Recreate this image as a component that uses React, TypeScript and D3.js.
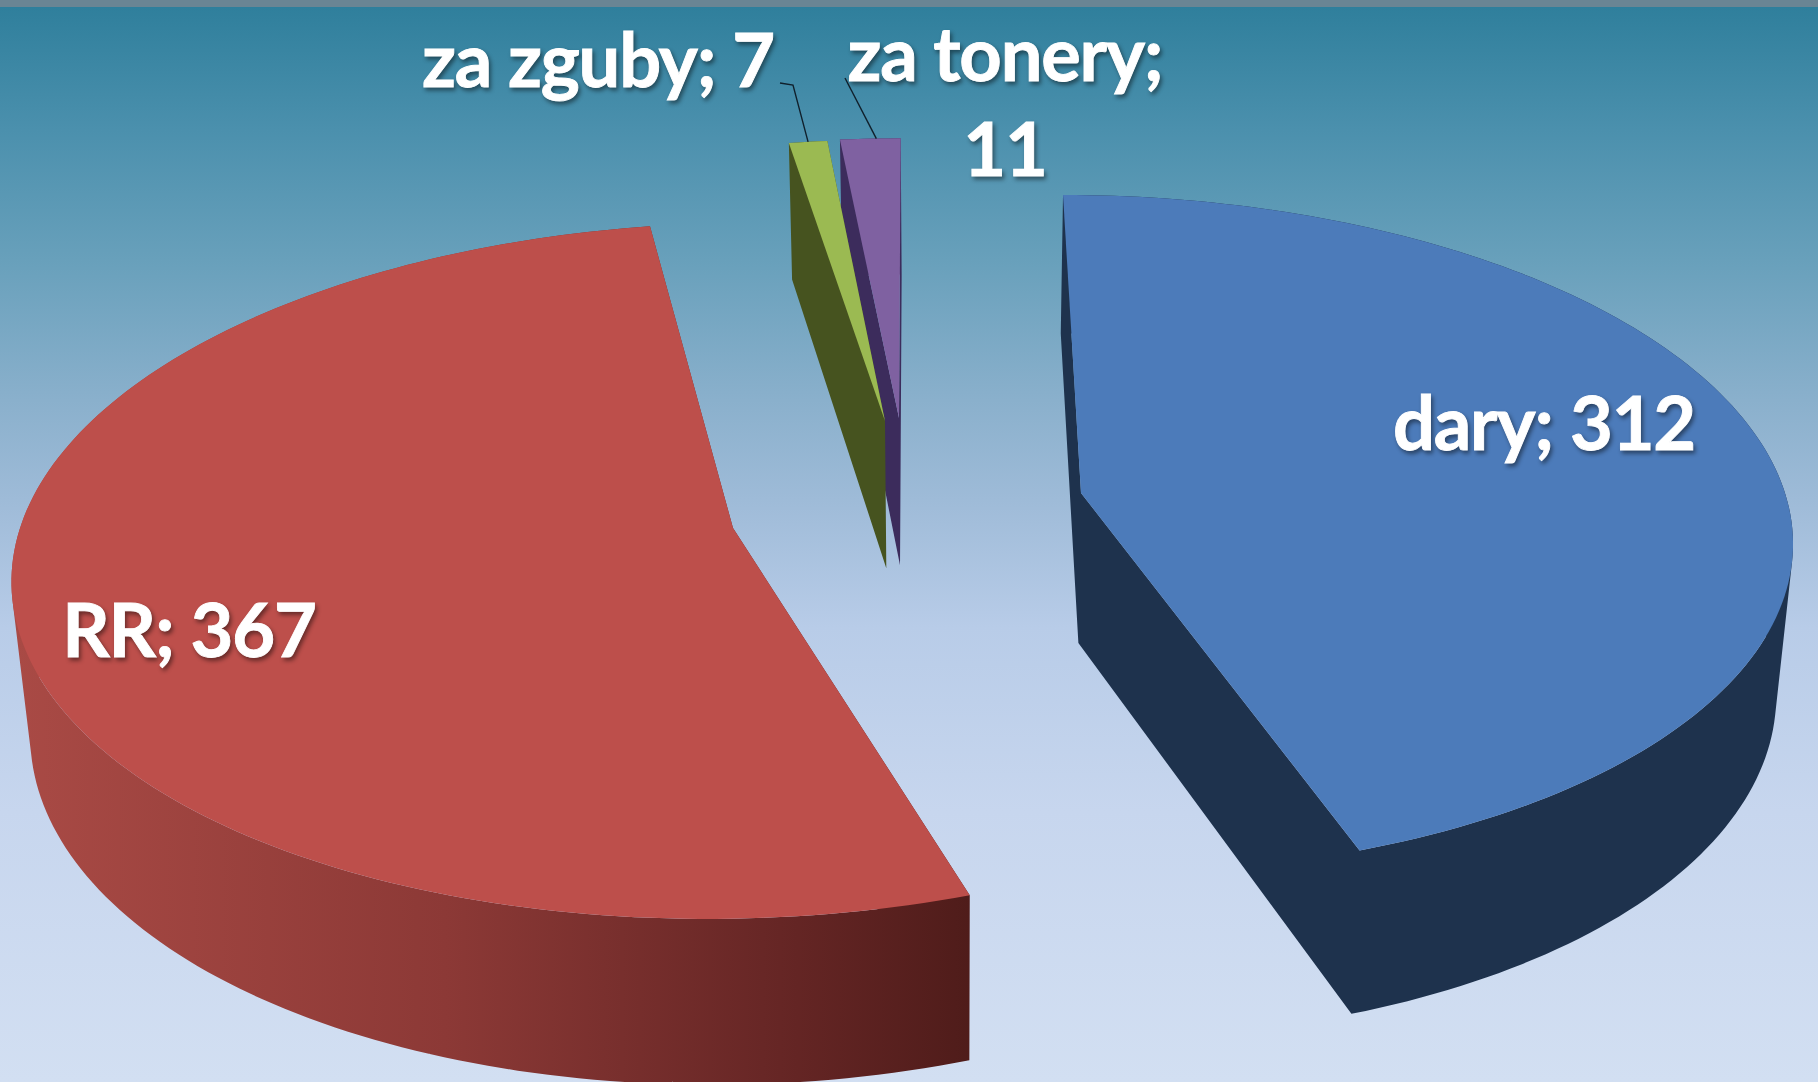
import React from "react";
import * as d3 from "d3";

// ---- data ----
const categories = ["dary", "RR", "za zguby", "za tonery"];
const seriesValues = [312, 367, 7, 11];

// ---- styles (per slice) ----
const topColors = ["#4c7bba", "#bd4f4b", "#9bba52", "#7f61a1"];
const wallColors = ["#1e324d", "url(#redWall)", "#46531f", "#3c2c5c"];
// where each exploded slice's tip sits on the page, and its depth-wise radius
const sliceTips: [number, number][] = [[1081, 493], [733, 528], [885, 421], [899, 418]];
const sliceDepthRadii = [712, 712, 706, 703];

const W = 1818, H = 1082;
// perspective of the pie plane
const VPX = 915, VPY = -2258, PH = 2751, DIST = 5860, RADIUS_X = 704;
const DEPTH = 150, NADIR_X = 950, NADIR_K = 0.02;

type P3 = [number, number, number];
type P2 = [number, number];
const project = (X: number, Y: number): P3 => {
  const w = 1 / (1 + Y / DIST);
  return [VPX + (X - VPX) * w, VPY + PH * w, w];
};
const unproject = (sx: number, sy: number): P2 => {
  const w = (sy - VPY) / PH;
  return [VPX + (sx - VPX) / w, DIST * (1 / w - 1)];
};
const drop = (p: P3): P2 => [
  p[0] + (NADIR_X - p[0]) * NADIR_K,
  p[1] + DEPTH * Math.pow(p[2], 0.7),
];
const flat = (p: P3): P2 => [p[0], p[1]];

const pie = d3.pie<number>().sort(null).value((d) => d);
const line = d3.line();

const slices = pie(seriesValues).map((a, i) => {
  const [cx, cy] = unproject(sliceTips[i][0], sliceTips[i][1]);
  const n = Math.max(2, Math.ceil((a.endAngle - a.startAngle) / 0.02));
  const rim: P3[] = d3.range(n + 1).map((k) => {
    const t = a.startAngle + ((a.endAngle - a.startAngle) * k) / n;
    return project(cx + RADIUS_X * Math.sin(t), cy + sliceDepthRadii[i] * Math.cos(t));
  });
  const tip = project(cx, cy);
  const outline = [tip, ...rim, tip];
  // every side panel wound the same way, so one path fills their union without seams
  const wall = d3
    .pairs(outline)
    .map(([p, q]) => {
      const quad: P2[] = [flat(p), flat(q), drop(q), drop(p)];
      const ordered = d3.polygonArea(quad) < 0 ? quad.slice().reverse() : quad;
      return line(ordered) + "Z";
    })
    .join("");
  return { i, wall, top: [tip, ...rim].map(flat), rim };
});

const bgStops: [number, string][] = [
  [0.006, "#2f7f9c"],
  [0.12, "#4b90ad"],
  [0.24, "#68a0bb"],
  [0.37, "#8ab0cc"],
  [0.47, "#a0bcd9"],
  [0.58, "#b8cce8"],
  [0.75, "#c7d6ee"],
  [1, "#d2dff2"],
];

type Label = { lines: string[]; x: number; y: number };
const labelSep = "; ";
const labels: Label[] = [
  { lines: [categories[0] + labelSep + seriesValues[0]], x: 1544, y: 450 },
  { lines: [categories[1] + labelSep + seriesValues[1]], x: 189, y: 657 },
  { lines: [categories[2] + labelSep + seriesValues[2]], x: 598, y: 87 },
  { lines: [categories[3] + labelSep.trimEnd(), String(seriesValues[3])], x: 1005, y: 81 },
];

const textStyle: React.CSSProperties = {
  fontFamily: "Lato, 'Open Sans', sans-serif",
  fontWeight: 700,
  fontSize: 74,
  letterSpacing: -1.2,
  fill: "#fff",
  stroke: "#fff",
  strokeWidth: 0.9,
  filter: "drop-shadow(2px 3px 2px rgba(0,0,0,0.45))",
};

export default function App() {
  const paintOrder = [3, 2, 1, 0];
  const greenRim = slices[2].rim, purpleRim = slices[3].rim;
  const gm = greenRim[Math.floor(greenRim.length / 2)];
  const pm = purpleRim[Math.floor(purpleRim.length / 2)];
  return (
    <svg
      width={W}
      height={H}
      viewBox={`0 0 ${W} ${H}`}
      style={{ position: "fixed", left: 0, top: 0, display: "block" }}
    >
      <defs>
        <linearGradient id="bg" x1="0" y1="0" x2="0" y2="1">
          {bgStops.map(([o, c]) => (
            <stop key={o} offset={o} stopColor={c} />
          ))}
        </linearGradient>
        <linearGradient id="redWall" gradientUnits="userSpaceOnUse" x1="15" y1="0" x2="972" y2="0">
          <stop offset="0" stopColor="#a94a45" />
          <stop offset="0.45" stopColor="#8c3936" />
          <stop offset="0.8" stopColor="#662625" />
          <stop offset="1" stopColor="#4f1c1a" />
        </linearGradient>
      </defs>
      <rect width={W} height={H} fill="url(#bg)" />
      <rect width={W} height={7} fill="#6a8594" />
      {paintOrder.map((idx) => {
        const s = slices[idx];
        return (
          <g key={categories[idx]}>
            <path d={s.wall} fill={wallColors[idx]} fillRule="nonzero" />
            <path d={line(s.top) + "Z"} fill={topColors[idx]} />
          </g>
        );
      })}
      <path d={line([[780, 83], [793, 85], [gm[0], gm[1]]])!} fill="none" stroke="#10202c" strokeWidth={1.4} />
      <path d={line([[845, 78], [pm[0], pm[1]]])!} fill="none" stroke="#10202c" strokeWidth={1.4} />
      {labels.map((l) => (
        <text key={l.lines[0]} x={l.x} y={l.y} textAnchor="middle" style={textStyle}>
          {l.lines.map((t, j) => (
            <tspan key={j} x={l.x} dy={j === 0 ? 0 : 95}>
              {t}
            </tspan>
          ))}
        </text>
      ))}
    </svg>
  );
}
